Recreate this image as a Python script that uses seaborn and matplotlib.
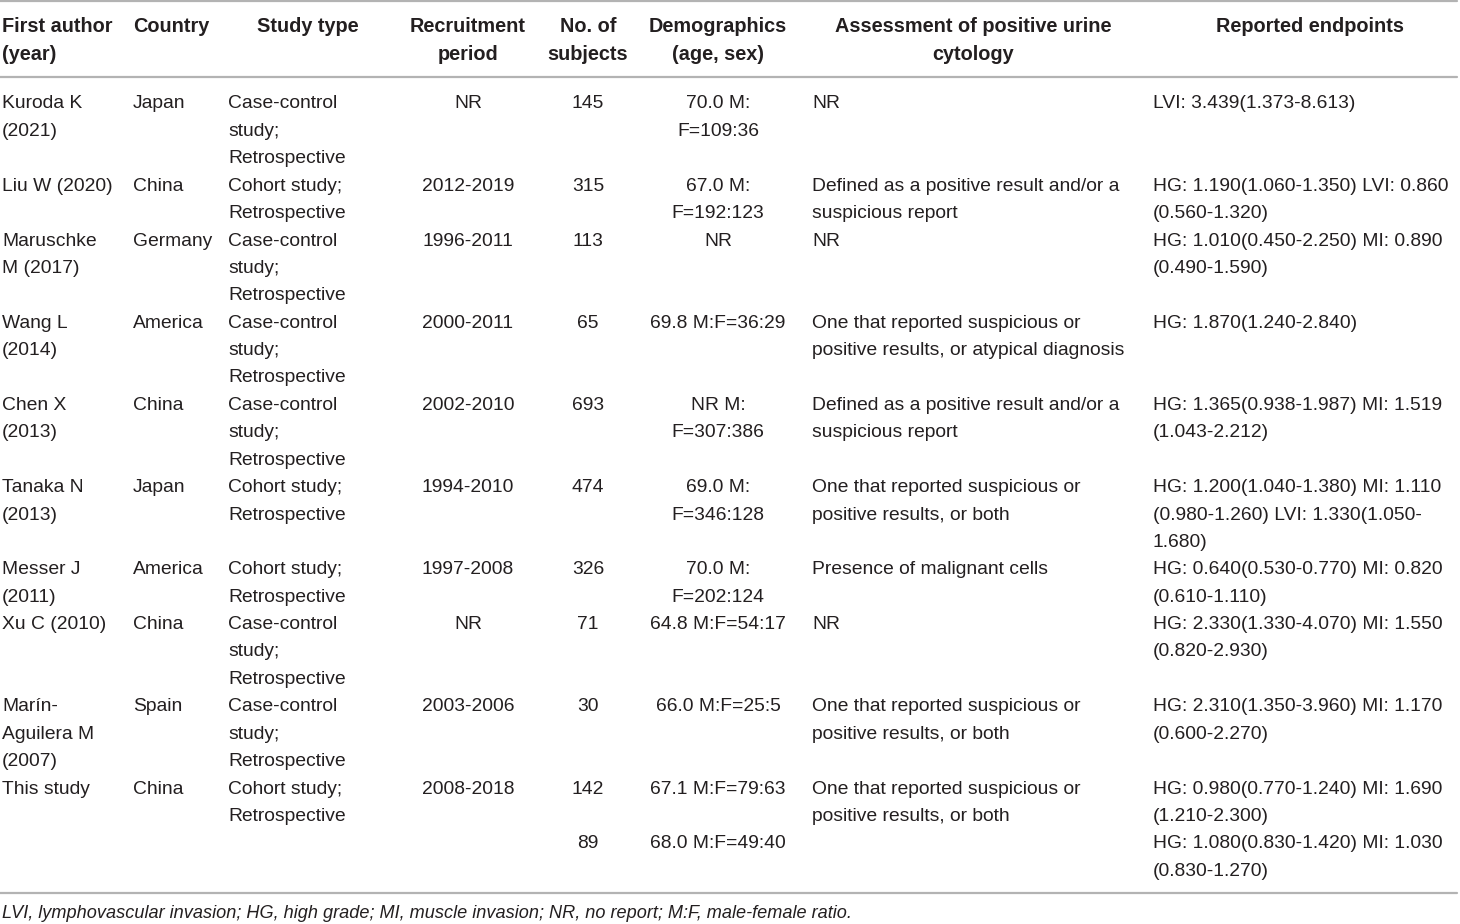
import matplotlib
matplotlib.use("Agg")
import matplotlib.pyplot as plt
import seaborn as sns

# table content, one entry per row, lines split by "\n"
authors = ["Kuroda K\n(2021)", "Liu W (2020)", "Maruschke\nM (2017)", "Wang L\n(2014)",
           "Chen X\n(2013)", "Tanaka N\n(2013)", "Messer J\n(2011)", "Xu C (2010)",
           "Marín-\nAguilera M\n(2007)", "This study", ""]
countries = ["Japan", "China", "Germany", "America", "China", "Japan", "America",
             "China", "Spain", "China", ""]
study_types = ["Case-control\nstudy;\nRetrospective", "Cohort study;\nRetrospective",
               "Case-control\nstudy;\nRetrospective", "Case-control\nstudy;\nRetrospective",
               "Case-control\nstudy;\nRetrospective", "Cohort study;\nRetrospective",
               "Cohort study;\nRetrospective", "Case-control\nstudy;\nRetrospective",
               "Case-control\nstudy;\nRetrospective", "Cohort study;\nRetrospective", ""]
periods = ["NR", "2012-2019", "1996-2011", "2000-2011", "2002-2010", "1994-2010",
           "1997-2008", "NR", "2003-2006", "2008-2018", ""]
subjects = ["145", "315", "113", "65", "693", "474", "326", "71", "30", "142", "89"]
demographics = ["70.0 M:\nF=109:36", "67.0 M:\nF=192:123", "NR", "69.8 M:F=36:29",
                "NR M:\nF=307:386", "69.0 M:\nF=346:128", "70.0 M:\nF=202:124",
                "64.8 M:F=54:17", "66.0 M:F=25:5", "67.1 M:F=79:63", "68.0 M:F=49:40"]
assessments = ["NR",
               "Defined as a positive result and/or a\nsuspicious report",
               "NR",
               "One that reported suspicious or\npositive results, or atypical diagnosis",
               "Defined as a positive result and/or a\nsuspicious report",
               "One that reported suspicious or\npositive results, or both",
               "Presence of malignant cells",
               "NR",
               "One that reported suspicious or\npositive results, or both",
               "One that reported suspicious or\npositive results, or both",
               ""]
endpoints = ["LVI: 3.439(1.373-8.613)",
             "HG: 1.190(1.060-1.350) LVI: 0.860\n(0.560-1.320)",
             "HG: 1.010(0.450-2.250) MI: 0.890\n(0.490-1.590)",
             "HG: 1.870(1.240-2.840)",
             "HG: 1.365(0.938-1.987) MI: 1.519\n(1.043-2.212)",
             "HG: 1.200(1.040-1.380) MI: 1.110\n(0.980-1.260) LVI: 1.330(1.050-\n1.680)",
             "HG: 0.640(0.530-0.770) MI: 0.820\n(0.610-1.110)",
             "HG: 2.330(1.330-4.070) MI: 1.550\n(0.820-2.930)",
             "HG: 2.310(1.350-3.960) MI: 1.170\n(0.600-2.270)",
             "HG: 0.980(0.770-1.240) MI: 1.690\n(1.210-2.300)",
             "HG: 1.080(0.830-1.420) MI: 1.030\n(0.830-1.270)"]
headers = ["First author\n(year)", "Country", "Study type", "Recruitment\nperiod",
           "No. of\nsubjects", "Demographics\n(age, sex)",
           "Assessment of positive urine\ncytology", "Reported endpoints"]
footnote = "LVI, lymphovascular invasion; HG, high grade; MI, muscle invasion; NR, no report; M:F, male-female ratio."

columns = [authors, countries, study_types, periods, subjects, demographics, assessments, endpoints]

# layout (pixels)
col_x = [2, 133, 228, 468, 588, 718, 812, 1153]
col_ha = ["left", "left", "left", "center", "center", "center", "left", "left"]
head_x = [2, 133, 308, 468, 588, 718, 973, 1310]
head_ha = ["left", "left", "center", "center", "center", "center", "center", "center"]
line_h = 27.4
fs = 13.9

sns.set_style("white")
plt.rcParams["font.family"] = ["Liberation Sans", "DejaVu Sans"]

fig = plt.figure(figsize=(14.6, 9.24), dpi=100)
ax = fig.add_axes([0, 0, 1, 1])
ax.set_xlim(0, 1460)
ax.set_ylim(924, 0)
ax.axis("off")

rule = dict(color="#b3b3b3", lw=1.6)
ax.plot([0, 1457], [1, 1], **rule)
ax.plot([0, 1457], [77, 77], **rule)
ax.plot([0, 1457], [893, 893], **rule)

for x, ha, txt in zip(head_x, head_ha, headers):
    for i, part in enumerate(txt.split("\n")):
        ax.text(x, 27 + i * line_h, part, ha=ha, va="center", fontsize=14.3,
                fontweight="bold", color="#231f20")

y0 = 104
for r in range(len(authors)):
    n_lines = max(len(col[r].split("\n")) for col in columns)
    for x, ha, col in zip(col_x, col_ha, columns):
        for i, part in enumerate(col[r].split("\n")):
            ax.text(x, y0 + i * line_h, part, ha=ha, va="center", fontsize=fs,
                    color="#231f20")
    y0 += n_lines * line_h

ax.text(2, 913, footnote, ha="left", va="center", fontsize=13.1,
        style="italic", color="#231f20")

fig.savefig("out.png", dpi=100)
